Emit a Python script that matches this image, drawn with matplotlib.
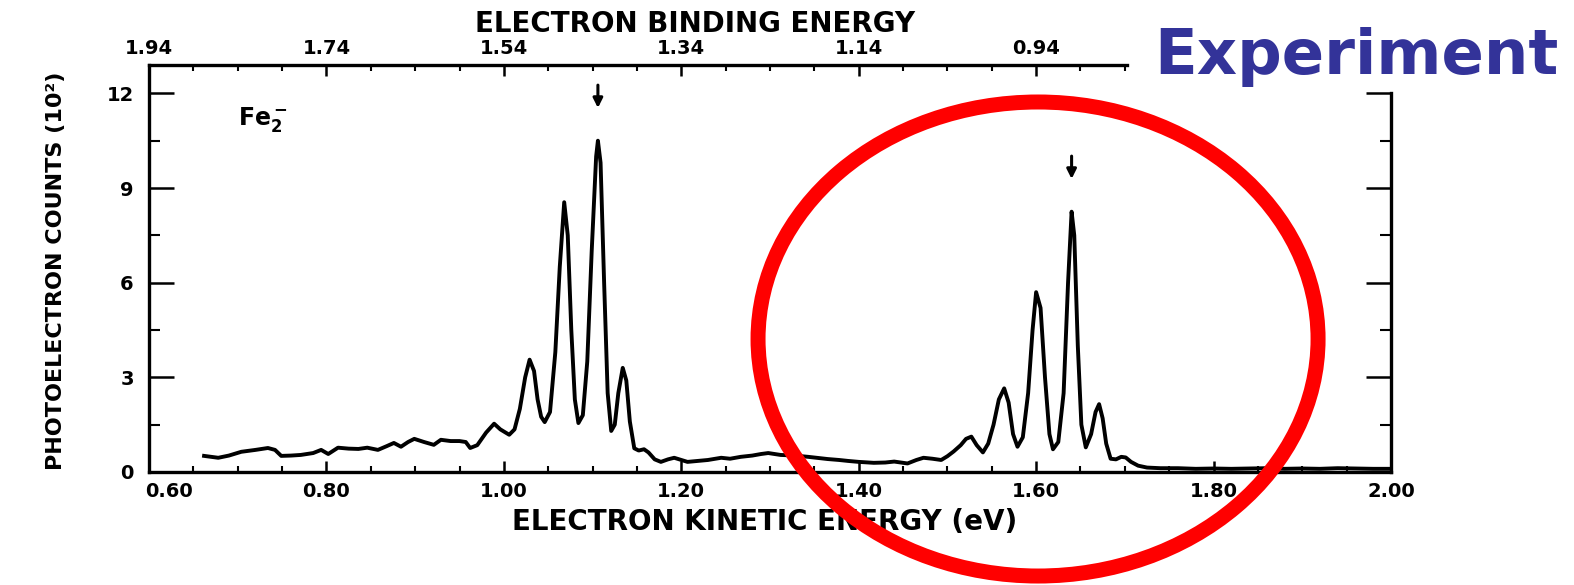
import numpy as np
import matplotlib.pyplot as plt
from matplotlib.patches import Ellipse
from matplotlib.ticker import MultipleLocator, FixedLocator
from matplotlib.transforms import ScaledTranslation

# Fe2- photoelectron spectrum: kinetic energy (eV) vs counts (units of 10^2)
kinetic_energy = [
    0.662, 0.678, 0.690, 0.704, 0.720, 0.734, 0.742, 0.749, 0.760, 0.771,
    0.785, 0.794, 0.802, 0.813, 0.825, 0.836, 0.846, 0.858, 0.868, 0.876,
    0.884, 0.892, 0.899, 0.910, 0.921, 0.929, 0.940, 0.950, 0.957, 0.962,
    0.970, 0.980, 0.989, 0.996, 1.006, 1.012, 1.018, 1.024, 1.029, 1.034,
    1.038, 1.042, 1.046, 1.052, 1.058, 1.063, 1.068, 1.072, 1.076, 1.080,
    1.084, 1.089, 1.094, 1.099, 1.104, 1.106, 1.109, 1.113, 1.117, 1.121,
    1.125, 1.129, 1.134, 1.138, 1.142, 1.147, 1.152, 1.158, 1.163, 1.170,
    1.177, 1.185, 1.192, 1.200, 1.207, 1.218, 1.230, 1.245, 1.255, 1.267,
    1.280, 1.290, 1.298, 1.312, 1.328, 1.343, 1.355, 1.365, 1.378, 1.388,
    1.400, 1.417, 1.430, 1.440, 1.455, 1.465, 1.473, 1.483, 1.493, 1.500,
    1.507, 1.515, 1.521, 1.527, 1.533, 1.540, 1.546, 1.552, 1.558, 1.564,
    1.569, 1.574, 1.579, 1.585, 1.591, 1.596, 1.600, 1.605, 1.610, 1.615,
    1.619, 1.625, 1.631, 1.636, 1.640, 1.643, 1.647, 1.651, 1.656, 1.662,
    1.667, 1.671, 1.675, 1.679, 1.684, 1.690, 1.696, 1.701, 1.707, 1.715,
    1.725, 1.740, 1.760, 1.780, 1.800, 1.820, 1.840, 1.860, 1.880, 1.900,
    1.920, 1.940, 1.960, 1.980, 2.000,
]
counts = [
    0.51, 0.45, 0.52, 0.64, 0.70, 0.76, 0.70, 0.51, 0.52, 0.54,
    0.60, 0.70, 0.57, 0.77, 0.74, 0.73, 0.77, 0.70, 0.82, 0.92,
    0.80, 0.95, 1.05, 0.95, 0.86, 1.02, 0.98, 0.98, 0.95, 0.76,
    0.85, 1.25, 1.53, 1.35, 1.18, 1.35, 2.00, 3.00, 3.56, 3.20,
    2.30, 1.75, 1.58, 1.90, 3.80, 6.50, 8.55, 7.50, 4.50, 2.30,
    1.55, 1.80, 3.50, 7.00, 10.00, 10.50, 9.80, 6.00, 2.50, 1.30,
    1.50, 2.50, 3.30, 2.90, 1.60, 0.75, 0.68, 0.72, 0.62, 0.40,
    0.32, 0.40, 0.45, 0.38, 0.32, 0.35, 0.38, 0.45, 0.42, 0.48,
    0.52, 0.57, 0.60, 0.54, 0.52, 0.48, 0.44, 0.41, 0.38, 0.35,
    0.32, 0.29, 0.30, 0.33, 0.27, 0.38, 0.45, 0.42, 0.38, 0.50,
    0.65, 0.85, 1.05, 1.12, 0.85, 0.62, 0.90, 1.50, 2.30, 2.65,
    2.20, 1.20, 0.80, 1.10, 2.50, 4.50, 5.70, 5.20, 3.00, 1.20,
    0.72, 0.95, 2.50, 6.00, 8.25, 7.50, 4.00, 1.50, 0.78, 1.20,
    1.90, 2.15, 1.70, 0.90, 0.42, 0.40, 0.48, 0.46, 0.32, 0.20,
    0.14, 0.12, 0.12, 0.10, 0.11, 0.10, 0.11, 0.12, 0.10, 0.11,
    0.10, 0.12, 0.11, 0.10, 0.10,
]

# marked peaks (kinetic energy, peak height)
arrow_ke = [1.106, 1.640]
arrow_peak = [10.50, 8.25]

ke_ticks = [0.60, 0.80, 1.00, 1.20, 1.40, 1.60, 1.80, 2.00]
count_ticks = [0, 3, 6, 9, 12]
photon_energy = 2.54
binding_ticks = [1.94, 1.74, 1.54, 1.34, 1.14, 0.94]

plt.rcParams["font.family"] = ["DejaVu Sans"]
plt.rcParams["font.weight"] = "bold"

fig = plt.figure(figsize=(15.74, 5.85), dpi=100)
ax = fig.add_axes([0.0947, 0.1932, 0.7890, 0.6957])

ax.plot(kinetic_energy, counts, color="black", lw=2.8, solid_joinstyle="round")

for ke, peak in zip(arrow_ke, arrow_peak):
    ax.annotate(
        "",
        xy=(ke, peak + 0.95),
        xytext=(ke, peak + 1.85),
        arrowprops=dict(arrowstyle="-|>", color="black", lw=2.2, mutation_scale=14),
    )

ax.text(0.70, 11.0, "Fe$_2^-$", fontsize=17, fontweight="bold", va="baseline")

ax.set_xlim(0.6, 2.0)
ax.set_ylim(0, 12.9)
ax.set_xticks(ke_ticks)
ax.set_xticklabels([f"{t:.2f}" for t in ke_ticks])
ax.xaxis.set_minor_locator(MultipleLocator(0.05))
ax.set_yticks(count_ticks)
ax.yaxis.set_minor_locator(MultipleLocator(1.5))

ax.tick_params(axis="x", which="major", direction="in", length=8, width=1.8,
               top=False, pad=7, labelsize=14)
ax.tick_params(axis="x", which="minor", direction="in", length=4, width=1.5, top=False)
ax.tick_params(axis="y", which="major", direction="in", length=18, width=1.8,
               right=True, pad=11, labelsize=14)
ax.tick_params(axis="y", which="minor", direction="in", length=8, width=1.5, right=True)

# nudge the corner label clear of the "0" on the count axis
first = ax.get_xticklabels()[0]
first.set_transform(first.get_transform() + ScaledTranslation(14 / 72, 0, fig.dpi_scale_trans))

for side in ["left", "bottom", "right"]:
    ax.spines[side].set_linewidth(2.4)
ax.spines["top"].set_visible(False)
ax.spines["right"].set_bounds(0, 12)

ax.set_xlabel("ELECTRON KINETIC ENERGY (eV)", fontsize=20, fontweight="bold")
ax.xaxis.set_label_coords(0.496, -0.088)
ax.set_ylabel("PHOTOELECTRON COUNTS (10²)", fontsize=16, fontweight="bold")
ax.yaxis.set_label_coords(-0.067, 0.494)

# binding energy scale along the top
ax2 = ax.twiny()
ax2.set_xlim(0.6, 2.0)
ax2.set_xticks([photon_energy - b for b in binding_ticks])
ax2.set_xticklabels([f"{b:.2f}" for b in binding_ticks])
ax2.xaxis.set_minor_locator(FixedLocator(np.arange(0.65, 1.71, 0.05)))
ax2.tick_params(axis="x", which="major", direction="in", length=8, width=1.8,
                pad=5, labelsize=14)
ax2.tick_params(axis="x", which="minor", direction="in", length=4, width=1.5)
for side in ["left", "bottom", "right"]:
    ax2.spines[side].set_visible(False)
ax2.spines["top"].set_linewidth(2.4)
ax2.spines["top"].set_bounds(0.6, 1.703)
ax2.set_xlabel("ELECTRON BINDING ENERGY", fontsize=20, fontweight="bold")
ax2.xaxis.set_label_coords(0.440, 1.081)

fig.text(0.7332, 0.8735, "Experiment", fontsize=45, fontweight="bold",
         color="#333399", va="baseline")

ring = Ellipse((0.6595, 0.4205), 0.3558, 0.8103, transform=fig.transFigure,
               fill=False, edgecolor="#ff0000", lw=10.8, zorder=10)
fig.add_artist(ring)

fig.savefig("out.png", dpi=100)
